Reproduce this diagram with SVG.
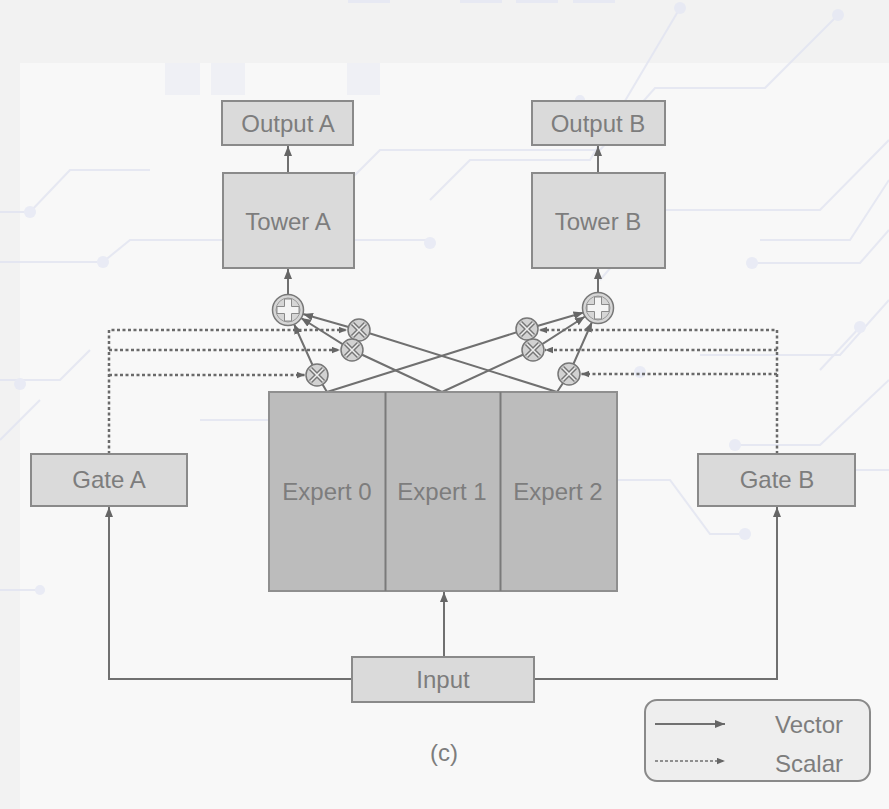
<svg xmlns="http://www.w3.org/2000/svg" width="889" height="809" viewBox="0 0 889 809">
<style>
.box{fill:#dadada;stroke:#8a8a8a;stroke-width:2}
.exp{fill:#bcbcbc;stroke:#8f8f8f;stroke-width:2}
.lbl{font-family:"Liberation Sans",Arial,sans-serif;font-size:24px;fill:#7d7d7d;text-anchor:middle}
.vec{fill:none;stroke:#707070;stroke-width:2}
.sca{fill:none;stroke:#6a6a6a;stroke-width:2.5;stroke-dasharray:3 2.5}
.bg{fill:none;stroke:#e0e3f1;stroke-width:2}
.bgd{fill:#e4e7f4}
.mul{fill:#d2d2d2;stroke:#777;stroke-width:1.5}
.plus{fill:#d6d6d6;stroke:#777;stroke-width:1.5}
</style>
<defs>
<marker id="ah" viewBox="0 0 10 8" refX="10" refY="4" markerWidth="10" markerHeight="8" markerUnits="userSpaceOnUse" orient="auto">
<path d="M0,0 L10,4 L0,8 z" fill="#666"/>
</marker>
<marker id="ahs" viewBox="0 0 10 8" refX="10" refY="4" markerWidth="8" markerHeight="7" markerUnits="userSpaceOnUse" orient="auto">
<path d="M0,0 L10,4 L0,8 z" fill="#666"/>
</marker>
<g id="mulsym">
<circle r="11" class="mul"/>
<path d="M-6.5,-6.5 L6.5,6.5 M6.5,-6.5 L-6.5,6.5" stroke="#777" stroke-width="4.5"/>
<path d="M-6.5,-6.5 L6.5,6.5 M6.5,-6.5 L-6.5,6.5" stroke="#eee" stroke-width="1.5"/>
</g>
<g id="plussym">
<circle r="15.5" class="plus"/>
<circle r="12" fill="none" stroke="#9a9a9a" stroke-width="1"/>
<path d="M-3.5,-11 H3.5 V-3.5 H11 V3.5 H3.5 V11 H-3.5 V3.5 H-11 V-3.5 H-3.5 z" fill="#f4f4f4" stroke="#8a8a8a" stroke-width="1"/>
</g>
</defs>

<!-- background -->
<rect x="0" y="0" width="889" height="809" fill="#f2f2f2"/>
<rect x="20" y="63" width="869" height="746" fill="#f8f8f8"/>
<g id="background-decor" opacity="0.75">
<rect x="165" y="63" width="35" height="32" class="bgd" opacity="0.6"/>
<rect x="211" y="63" width="34" height="32" class="bgd" opacity="0.6"/>
<rect x="347" y="63" width="33" height="32" class="bgd" opacity="0.6"/>
<rect x="348" y="0" width="42" height="3" class="bgd"/>
<rect x="460" y="0" width="42" height="3" class="bgd"/>
<rect x="516" y="0" width="42" height="3" class="bgd"/>
<rect x="573" y="0" width="42" height="3" class="bgd"/>
<path class="bg" d="M680,8 L590,160 H470 L430,200"/>
<path class="bg" d="M838,15 L765,88 H655 L600,150 H380 L330,200 H260"/>
<path class="bg" d="M580,100 L560,130"/>
<path class="bg" d="M0,212 H30 L70,170 H150"/>
<path class="bg" d="M0,262 H103 L130,240 H430"/>
<path class="bg" d="M889,140 L820,210 H660 L600,280"/>
<path class="bg" d="M889,180 L850,240 H760"/>
<path class="bg" d="M752,263 H860 L889,230"/>
<path class="bg" d="M889,300 L840,355 H700"/>
<path class="bg" d="M860,327 L820,370"/>
<path class="bg" d="M0,380 H60 L90,350"/>
<path class="bg" d="M0,440 L40,400"/>
<path class="bg" d="M745,534 H710 L670,480 H560"/>
<path class="bg" d="M735,445 H820 L889,380"/>
<path class="bg" d="M820,470 H889"/>
<path class="bg" d="M0,590 H40"/>
<path class="bg" d="M200,420 H330 L360,450 H470 L500,420"/>
<circle cx="680" cy="8" r="6" class="bgd"/>
<circle cx="838" cy="15" r="6" class="bgd"/>
<circle cx="580" cy="100" r="5" class="bgd"/>
<circle cx="30" cy="212" r="6" class="bgd"/>
<circle cx="103" cy="262" r="6" class="bgd"/>
<circle cx="430" cy="243" r="6" class="bgd"/>
<circle cx="752" cy="263" r="6" class="bgd"/>
<circle cx="860" cy="327" r="6" class="bgd"/>
<circle cx="745" cy="534" r="6" class="bgd"/>
<circle cx="735" cy="445" r="6" class="bgd"/>
<circle cx="40" cy="590" r="5" class="bgd"/>
<circle cx="330" cy="418" r="6" class="bgd"/>
<circle cx="580" cy="508" r="7" class="bgd"/>
<circle cx="20" cy="384" r="6" class="bgd"/>
<circle cx="640" cy="372" r="6" class="bgd"/>
</g>

<!-- connectors -->
<g id="connectors">
<path class="vec" d="M288,173 V146" marker-end="url(#ah)"/>
<path class="vec" d="M598,173 V146" marker-end="url(#ah)"/>
<path class="vec" d="M288,294 V269" marker-end="url(#ah)"/>
<path class="vec" d="M598,292 V269" marker-end="url(#ah)"/>
<path class="vec" d="M327,392 L317,375 L294,324" marker-end="url(#ah)"/>
<path class="vec" d="M557,392 L359,330 L303,314" marker-end="url(#ah)"/>
<path class="vec" d="M442,392 L352,350 L301,318" marker-end="url(#ah)"/>
<path class="vec" d="M327,392 L527,329 L583.5,312.5" marker-end="url(#ah)"/>
<path class="vec" d="M442,392 L533,350 L585,316.5" marker-end="url(#ah)"/>
<path class="vec" d="M557,392 L569,374 L592,322" marker-end="url(#ah)"/>
<path class="sca" d="M109,454 V330 H347" marker-end="url(#ahs)"/>
<path class="sca" d="M109,350 H340" marker-end="url(#ahs)"/>
<path class="sca" d="M109,375 H305" marker-end="url(#ahs)"/>
<path class="sca" d="M777,454 V330 H539" marker-end="url(#ahs)"/>
<path class="sca" d="M777,350 H545" marker-end="url(#ahs)"/>
<path class="sca" d="M777,374 H581" marker-end="url(#ahs)"/>
<path class="vec" d="M352,679 H109 V507" marker-end="url(#ah)"/>
<path class="vec" d="M534,679 H777 V507" marker-end="url(#ah)"/>
<path class="vec" d="M444,657 V592" marker-end="url(#ah)"/>
</g>

<!-- operators -->
<g id="plus-a"><use href="#plussym" x="288" y="310"/></g>
<g id="plus-b"><use href="#plussym" x="598" y="308"/></g>
<g id="mul-a1"><use href="#mulsym" x="359" y="330"/></g>
<g id="mul-a2"><use href="#mulsym" x="352" y="350"/></g>
<g id="mul-a3"><use href="#mulsym" x="317" y="375"/></g>
<g id="mul-b1"><use href="#mulsym" x="527" y="329"/></g>
<g id="mul-b2"><use href="#mulsym" x="533" y="350"/></g>
<g id="mul-b3"><use href="#mulsym" x="569" y="374"/></g>

<!-- nodes -->
<g id="output-a"><rect class="box" x="222" y="101" width="131" height="44"/><text class="lbl" x="288" y="132">Output A</text></g>
<g id="output-b"><rect class="box" x="532" y="101" width="133" height="44"/><text class="lbl" x="598" y="132">Output B</text></g>
<g id="tower-a"><rect class="box" x="223" y="173" width="131" height="95"/><text class="lbl" x="288" y="230">Tower A</text></g>
<g id="tower-b"><rect class="box" x="532" y="173" width="133" height="95"/><text class="lbl" x="598" y="230">Tower B</text></g>
<g id="gate-a"><rect class="box" x="31" y="454" width="156" height="52"/><text class="lbl" x="109" y="488">Gate A</text></g>
<g id="gate-b"><rect class="box" x="698" y="454" width="157" height="52"/><text class="lbl" x="777" y="488">Gate B</text></g>
<g id="experts">
<rect class="exp" x="269" y="392" width="348" height="199"/>
<line x1="385.5" y1="392" x2="385.5" y2="591" stroke="#7a7a7a" stroke-width="2"/>
<line x1="500.5" y1="392" x2="500.5" y2="591" stroke="#7a7a7a" stroke-width="2"/>
</g>
<g id="expert-0"><text class="lbl" x="327" y="500">Expert 0</text></g>
<g id="expert-1"><text class="lbl" x="442" y="500">Expert 1</text></g>
<g id="expert-2"><text class="lbl" x="558" y="500">Expert 2</text></g>
<g id="input"><rect class="box" x="352" y="657" width="182" height="45"/><text class="lbl" x="443" y="688">Input</text></g>

<g id="caption"><text class="lbl" x="444" y="761">(c)</text></g>

<g id="legend">
<rect x="645" y="700" width="225" height="81" rx="12" fill="#eeeeee" stroke="#8a8a8a" stroke-width="2"/>
<path class="vec" d="M655,724 H725" marker-end="url(#ah)"/>
<path d="M655,761 H725" fill="none" stroke="#707070" stroke-width="1.5" stroke-dasharray="3 2" marker-end="url(#ahs)"/>
<text class="lbl" x="843" y="733" style="text-anchor:end">Vector</text>
<text class="lbl" x="843" y="772" style="text-anchor:end">Scalar</text>
</g>
</svg>
